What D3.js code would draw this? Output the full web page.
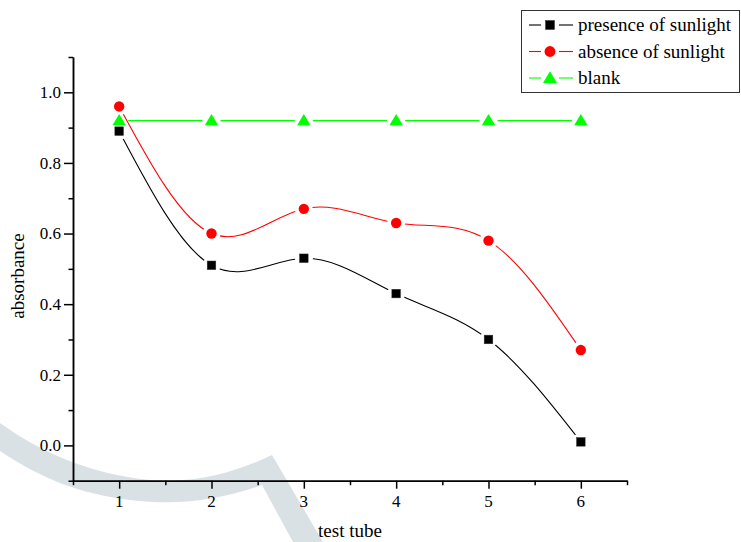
<!DOCTYPE html>
<html><head><meta charset="utf-8">
<script src="https://cdn.jsdelivr.net/npm/d3@7"></script>
<style>
html,body{margin:0;padding:0;background:#fff;}
svg{display:block;}
</style></head>
<body>
<svg id="chart" width="741" height="542"></svg>
<script>
// ---- data ----
const tubes = [1, 2, 3, 4, 5, 6];
const presence = [0.89, 0.51, 0.53, 0.43, 0.30, 0.01];
const absence  = [0.96, 0.60, 0.67, 0.63, 0.58, 0.27];
const blank    = [0.92, 0.92, 0.92, 0.92, 0.92, 0.92];
const seriesNames = ["presence of sunlight", "absence of sunlight", "blank"];
const seriesColors = ["#000000", "#ff0000", "#00ff00"];
const seriesShapes = ["square", "circle", "triangle"];
const yMajorTicks = [0.0, 0.2, 0.4, 0.6, 0.8, 1.0];
const yTickLabels = ["0.0", "0.2", "0.4", "0.6", "0.8", "1.0"];
const yMinorTicks = [-0.1, 0.1, 0.3, 0.5, 0.7, 0.9, 1.1];
const xMajorTicks = [1, 2, 3, 4, 5, 6];
const xTickLabels = ["1", "2", "3", "4", "5", "6"];
const xMinorTicks = [0.5, 1.5, 2.5, 3.5, 4.5, 5.5, 6.5];
const xTitle = "test tube";
const yTitle = "absorbance";

const FONT = "Liberation Serif";
const svg = d3.select("#chart");
const x = d3.scaleLinear().domain([0.5, 6.5]).range([73, 627]);
const y = d3.scaleLinear().domain([-0.1, 1.1]).range([480.7, 57]);

function label(parent, txt, size) {
  return parent.append("text").attr("font-family", FONT).attr("font-size", size)
    .attr("fill", "#000").text(txt);
}

// ---- decorative watermark ----
svg.append("path")
  .attr("d", "M0,423 C40,452 90,474 150,480 C200,484 240,470 272,455 L323,542 L293,542 L262,485 C220,500 180,506 130,500 C80,494 40,478 0,451 Z")
  .attr("fill", "#dae1e5");

// ---- axes ----
const axisG = svg.append("g");
function drawAxis(gen, transform, ticks, size) {
  const g = axisG.append("g").attr("transform", transform)
    .call(gen.tickValues(ticks).tickSize(size).tickSizeOuter(0).tickFormat(() => ""));
  g.selectAll("text").remove();
  g.selectAll("path,line").attr("stroke", "#000").attr("stroke-width", 1.5);
  return g;
}
drawAxis(d3.axisLeft(y), `translate(${x(0.5)},0)`, yMinorTicks, 4.5);
drawAxis(d3.axisLeft(y), `translate(${x(0.5)},0)`, yMajorTicks, 9);
drawAxis(d3.axisBottom(x), `translate(0,${y(-0.1)})`, xMinorTicks, 4.5);
drawAxis(d3.axisBottom(x), `translate(0,${y(-0.1)})`, xMajorTicks, 8);

yMajorTicks.forEach((v, i) => {
  label(svg, yTickLabels[i], 17).attr("x", x(0.5) - 12).attr("y", y(v))
    .attr("dy", "0.35em").attr("text-anchor", "end");
});
xMajorTicks.forEach((v, i) => {
  label(svg, xTickLabels[i], 17).attr("x", x(v)).attr("y", y(-0.1) + 26)
    .attr("text-anchor", "middle");
});

label(svg, xTitle, 19).attr("x", 350).attr("y", 537).attr("text-anchor", "middle");
label(svg, yTitle, 19).attr("transform", "translate(24,276) rotate(-90)")
  .attr("text-anchor", "middle");

// ---- marker helper ----
function marker(sel, shape, color, cx, cy, s) {
  if (shape === "square") {
    sel.append("rect").attr("x", cx - 4.3*s).attr("y", cy - 4.3*s)
      .attr("width", 8.6*s).attr("height", 8.6*s).attr("fill", color)
      .attr("stroke", "#333").attr("stroke-width", 0.5);
  } else if (shape === "circle") {
    sel.append("circle").attr("cx", cx).attr("cy", cy).attr("r", 5.2*s).attr("fill", color);
  } else {
    sel.append("path").attr("d",
      `M${cx},${cy - 6.5*s} L${cx + 6.7*s},${cy + 4.8*s} L${cx - 6.7*s},${cy + 4.8*s} Z`)
      .attr("fill", color);
  }
}

// ---- series ----
const allSeries = [presence, absence, blank];
const defs = svg.append("defs");
allSeries.forEach((vals, i) => {
  const pts = tubes.map((t, j) => [x(t), y(vals[j])]);
  const m = defs.append("mask").attr("id", "gap" + i).attr("maskUnits", "userSpaceOnUse")
    .attr("x", 0).attr("y", 0).attr("width", 741).attr("height", 542);
  m.append("rect").attr("width", 741).attr("height", 542).attr("fill", "#fff");
  pts.forEach(p => m.append("circle").attr("cx", p[0]).attr("cy", p[1]).attr("r", 9).attr("fill", "#000"));
  const curve = i === 2 ? d3.curveLinear : d3.curveNatural;
  svg.append("path").datum(pts)
    .attr("d", d3.line().curve(curve))
    .attr("fill", "none").attr("stroke", seriesColors[i])
    .attr("stroke-width", i === 2 ? 1.3 : 1.1)
    .attr("mask", `url(#gap${i})`);
});
allSeries.forEach((vals, i) => {
  const g = svg.append("g");
  tubes.forEach((t, j) => marker(g, seriesShapes[i], seriesColors[i], x(t), y(vals[j]), 1));
});

// ---- legend ----
const lg = svg.append("g");
lg.append("rect").attr("x", 521.5).attr("y", 10.5).attr("width", 218).attr("height", 82)
  .attr("fill", "#fff").attr("stroke", "#333").attr("stroke-width", 1);
seriesNames.forEach((name, i) => {
  const cy = 25 + i * 26.5;
  lg.append("line").attr("x1", 529).attr("x2", 541).attr("y1", cy).attr("y2", cy)
    .attr("stroke", seriesColors[i]).attr("stroke-width", 1.1);
  lg.append("line").attr("x1", 559).attr("x2", 573).attr("y1", cy).attr("y2", cy)
    .attr("stroke", seriesColors[i]).attr("stroke-width", 1.1);
  marker(lg, seriesShapes[i], seriesColors[i], 550, cy, 1.05);
  label(lg, name, 19).attr("x", 578).attr("y", cy).attr("dy", "0.33em");
});
</script>
</body></html>
